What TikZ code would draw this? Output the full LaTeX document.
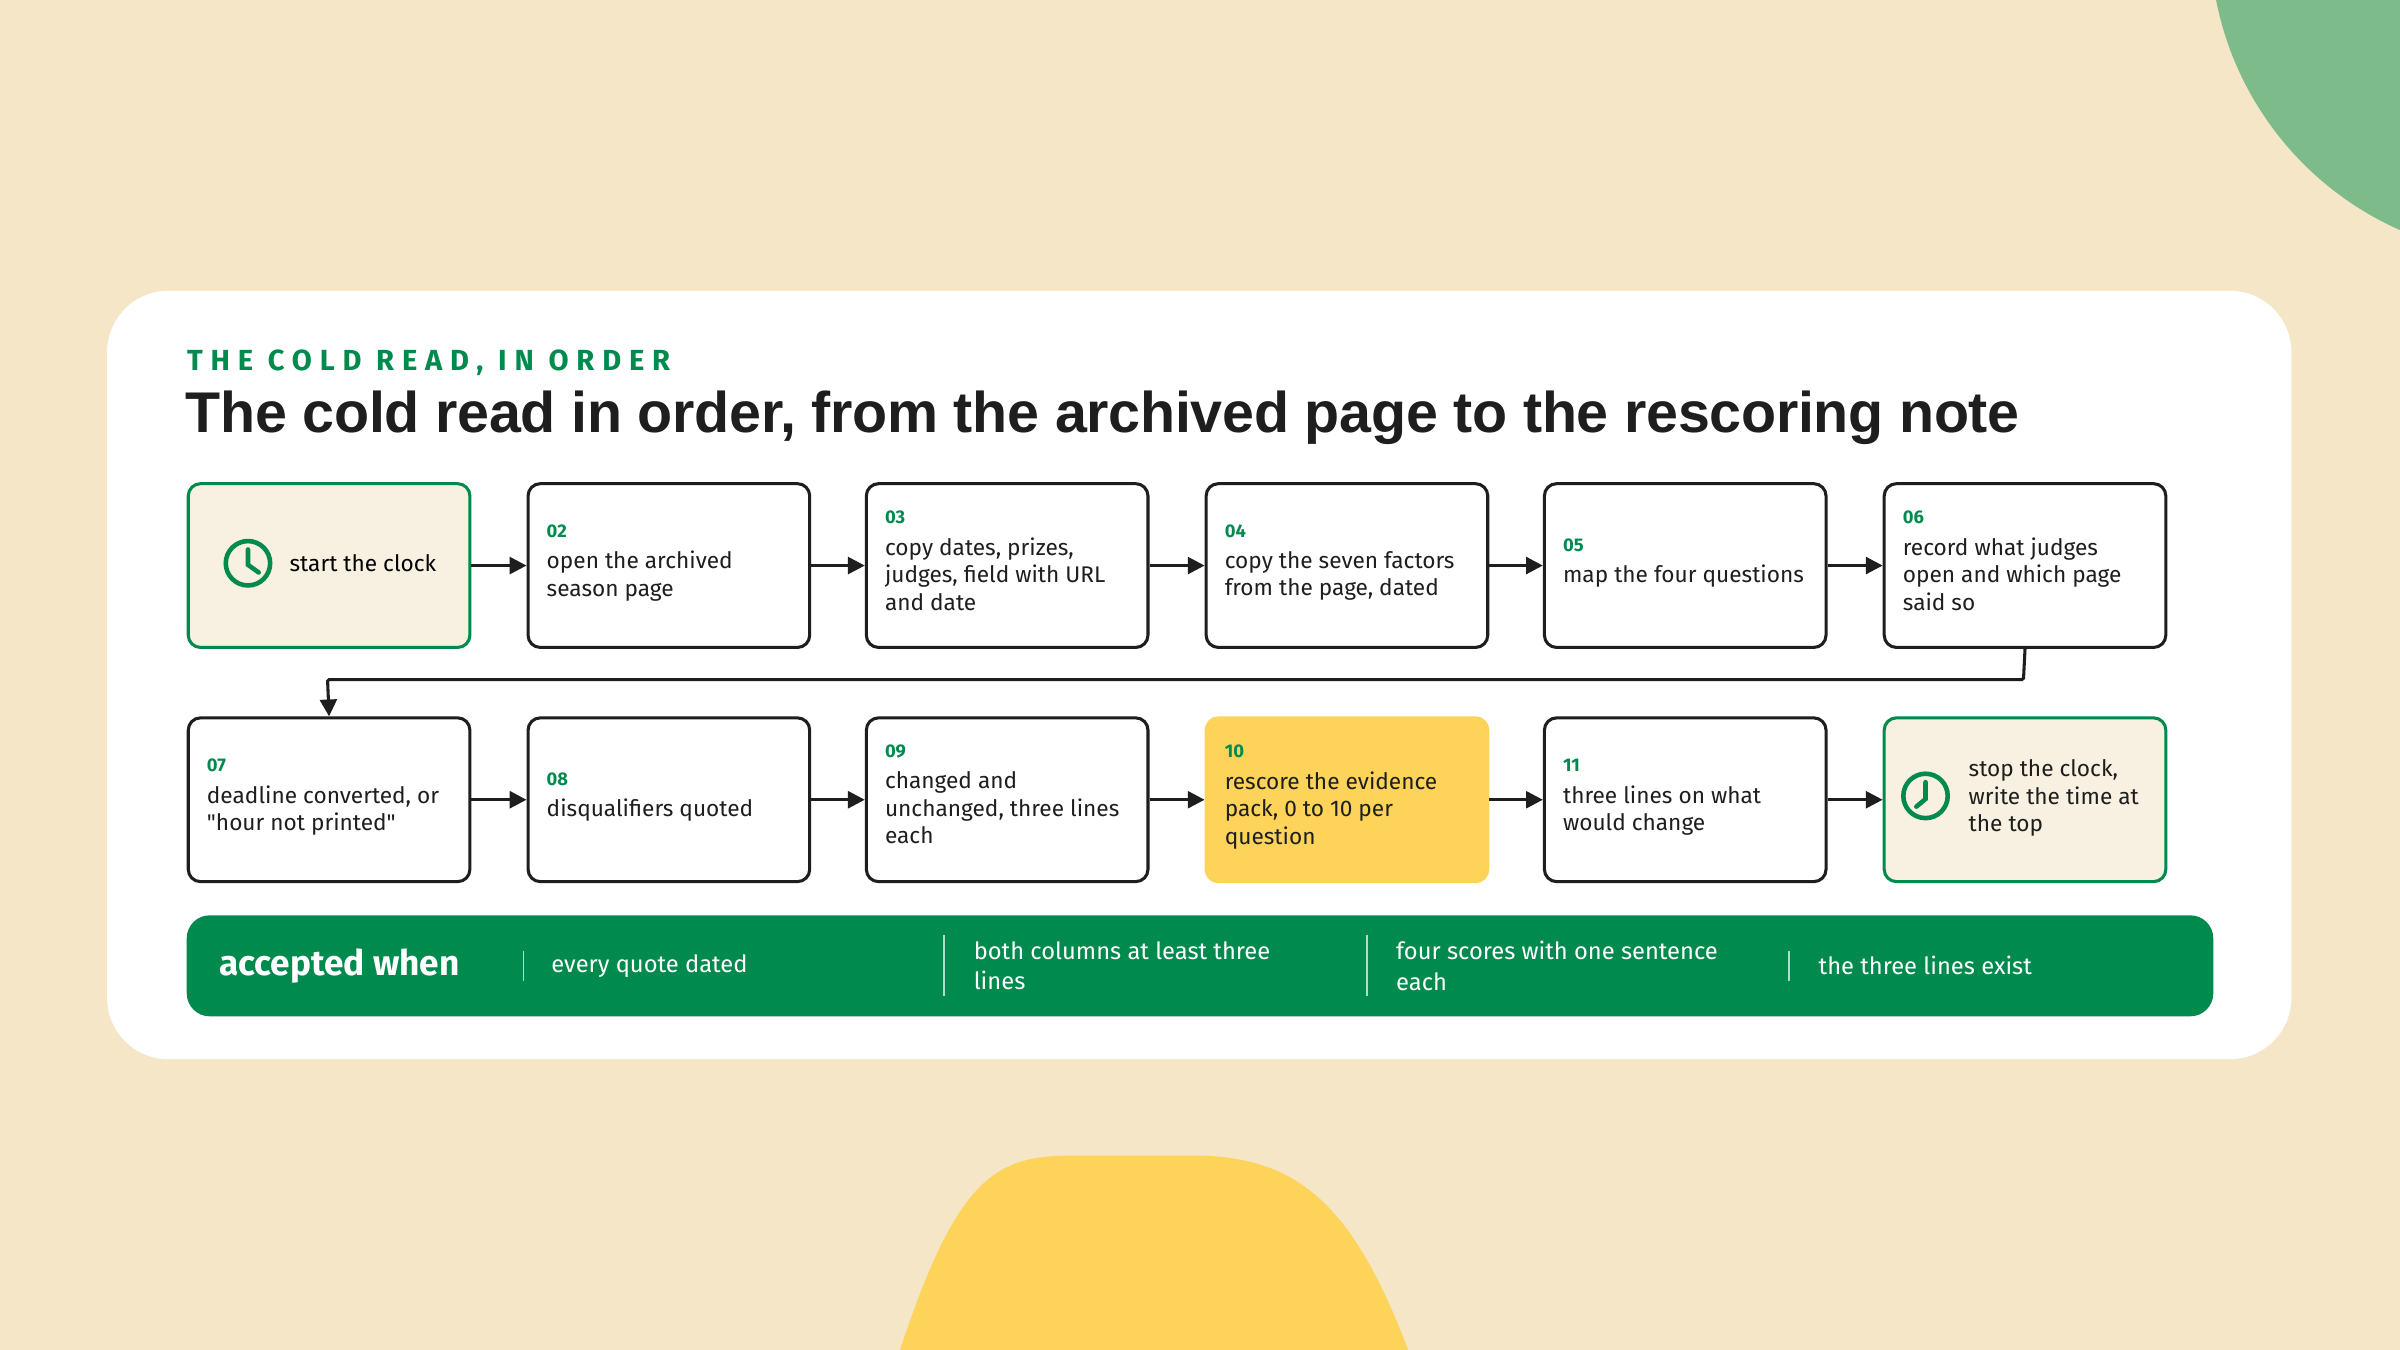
\documentclass[tikz,border=0pt]{standalone}
\usepackage{fontspec}
\setmainfont{Fira Sans}
\newfontfamily\titlefont{Liberation Sans}
\newfontfamily\plainq{Fira Sans}[Ligatures=TeXOff]
\usetikzlibrary{arrows.meta}
\definecolor{bg}{HTML}{F5E6C8}
\definecolor{grn}{HTML}{008A4E}
\definecolor{lgrn}{HTML}{7DBB8A}
\definecolor{ylw}{HTML}{FDD35A}
\definecolor{cream}{HTML}{F8F0E0}
\definecolor{ink}{HTML}{1E1E1E}
\begin{document}
\begin{tikzpicture}[x=1pt,y=-1pt,
 box/.style={draw=ink,line width=2pt,rounded corners=8pt,fill=white,minimum width=184pt,minimum height=107pt,anchor=north west,inner sep=0pt},
 endbox/.style={box,draw=grn,fill=cream},
 hot/.style={box,draw=ylw,fill=ylw},
 num/.style={anchor=west,font=\bfseries\fontsize{12}{14}\selectfont,text=grn,inner sep=0pt},
 lbl/.style={anchor=north west,align=left,font=\fontsize{14.8}{18}\selectfont,text=ink,inner sep=0pt},
 arr/.style={-{Triangle[length=11pt,width=11pt]},line width=2pt,draw=ink},
 bar/.style={anchor=west,align=left,text=white,font=\fontsize{15.5}{20}\selectfont,inner sep=0pt},
 sep/.style={draw=white!70!grn,line width=1.2pt}]
\useasboundingbox (0,0) rectangle (1568,882);
\fill[bg] (0,0) rectangle (1568,882);
\begin{scope}
\clip (0,0) rectangle (1568,882);
\fill[lgrn] (1652,-40) circle (208);
\fill[ylw] (588,882) .. controls (625,770) and (650,755) .. (700,755) -- (780,755) .. controls (850,755) and (885,790) .. (920,882) -- cycle;
\end{scope}
\fill[white,rounded corners=40pt] (70,190) rectangle (1497,692);
\node[anchor=west,text=grn,font=\bfseries\fontsize{19}{20}\selectfont,inner sep=0pt] (sub) at (122,237) {\addfontfeature{LetterSpace=27}THE COLD READ, IN ORDER};
\node[anchor=west,text=ink,font=\titlefont\bfseries\fontsize{37.5}{40}\selectfont,inner sep=0pt] (title) at (121,273) {\addfontfeature{LetterSpace=-0.5}The cold read in order, from the archived page to the rescoring note};
% row 1
\node[endbox] (b1) at (122,315) {};
\node[box] (b2) at (344,315) {};
\node[box] (b3) at (565,315) {};
\node[box] (b4) at (787,315) {};
\node[box] (b5) at (1008,315) {};
\node[box] (b6) at (1230,315) {};
% row 2
\node[box] (b7) at (122,468) {};
\node[box] (b8) at (344,468) {};
\node[box] (b9) at (565,468) {};
\node[hot] (b10) at (787,468) {};
\node[box] (b11) at (1008,468) {};
\node[endbox] (b12) at (1230,468) {};
% clocks
\draw[grn,line width=3pt] (162,368) circle (14.5);
\draw[grn,line width=3pt,line cap=round] (162,359) -- (162,369) -- (169,374);
\draw[grn,line width=3pt] (1258,520) circle (14.5);
\draw[grn,line width=3pt,line cap=round] (1258,511) -- (1258,522) -- (1252,527);
% texts
\node[anchor=west,font=\fontsize{14.8}{18}\selectfont,inner sep=0pt] (t1) at (189,368) {start the clock};
\node[num] (n2) at (357,347) {02};
\node[lbl] (t2) at (357,360) {open the archived\\season page};
\node[num] (n3) at (578,338) {03};
\node[lbl] (t3) at (578,351) {copy dates, prizes,\\judges, field with URL\\and date};
\node[num] (n4) at (800,347) {04};
\node[lbl] (t4) at (800,360) {copy the seven factors\\from the page, dated};
\node[num] (n5) at (1021,356) {05};
\node[lbl] (t5) at (1021,369) {map the four questions};
\node[num] (n6) at (1243,338) {06};
\node[lbl] (t6) at (1243,351) {record what judges\\open and which page\\said so};
\node[num] (n7) at (135,500) {07};
\node[lbl] (t7) at (135,513) {deadline converted, or\\{\plainq "hour not printed"}};
\node[num] (n8) at (357,509) {08};
\node[lbl] (t8) at (357,522) {disqualifiers quoted};
\node[num] (n9) at (578,491) {09};
\node[lbl] (t9) at (578,504) {changed and\\unchanged, three lines\\each};
\node[num] (n10) at (800,491) {10};
\node[lbl] (t10) at (800,504) {rescore the evidence\\pack, 0 to 10 per\\question};
\node[num] (n11) at (1021,500) {11};
\node[lbl] (t11) at (1021,513) {three lines on what\\would change};
\node[lbl] (t12) at (1286,496) {stop the clock,\\write the time at\\the top};
% arrows
\draw[arr] (b1) -- (b2);
\draw[arr] (b2) -- (b3);
\draw[arr] (b3) -- (b4);
\draw[arr] (b4) -- (b5);
\draw[arr] (b5) -- (b6);
\coordinate (c1) at (1322,444);
\coordinate (c2) at (214,444);
\draw[arr,rounded corners=1pt] (b6.south) -- (c1) -- (c2) -- (b7.north);
\draw[arr] (b7) -- (b8);
\draw[arr] (b8) -- (b9);
\draw[arr] (b9) -- (b10);
\draw[arr] (b10) -- (b11);
\draw[arr] (b11) -- (b12);
% bar
\fill[grn,rounded corners=15pt] (122,598) rectangle (1446,664);
\node[anchor=west,text=white,font=\bfseries\fontsize{23}{24}\selectfont,inner sep=0pt] (acc) at (143,631) {accepted when};
\draw[sep] (342,621) -- (342,641);
\draw[sep] (617,611) -- (617,651);
\draw[sep] (893,611) -- (893,651);
\draw[sep] (1169,621) -- (1169,641);
\node[bar] (a1) at (360,631) {every quote dated};
\node[bar] (a2) at (636,631) {both columns at least three\\lines};
\node[bar] (a3) at (912,631) {four scores with one sentence\\each};
\node[bar] (a4) at (1188,631) {the three lines exist};
\end{tikzpicture}
\end{document}
